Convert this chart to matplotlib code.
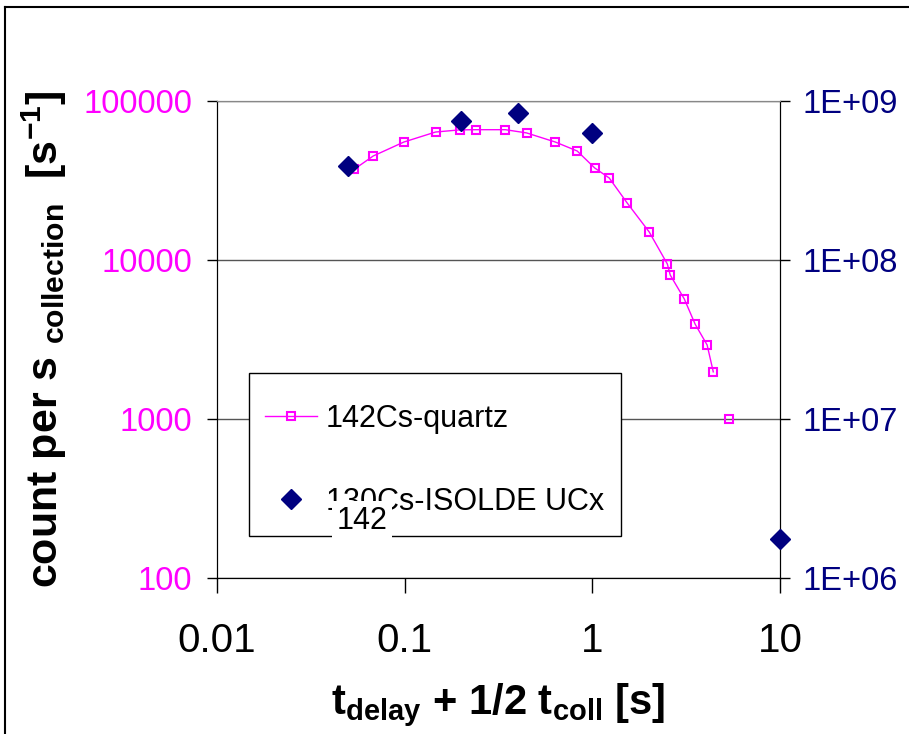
import numpy as np
import matplotlib
matplotlib.use("Agg")
import matplotlib.pyplot as plt
from matplotlib.ticker import FuncFormatter, FixedLocator, NullLocator
from matplotlib.lines import Line2D
from matplotlib.patches import Rectangle

plt.rcParams['font.family'] = ['Liberation Sans', 'DejaVu Sans']
plt.rcParams['mathtext.fontset'] = 'custom'
plt.rcParams['mathtext.rm'] = 'Liberation Sans'
plt.rcParams['mathtext.bf'] = 'Liberation Sans:bold'

# 142Cs from the quartz target (left axis, counts per s)
quartz_t = [0.054, 0.068, 0.099, 0.146, 0.196, 0.241, 0.344, 0.446, 0.635, 0.83,
            1.03, 1.23, 1.535, 2.01, 2.51, 2.60, 3.09, 3.53, 4.09, 4.41, 5.36]
quartz_rate = [37300, 45100, 55200, 63800, 65800, 66000, 66000, 63000, 55200, 48500,
               37900, 32800, 22800, 15000, 9440, 8050, 5690, 3950, 2920, 1980, 1000]

# 130Cs from ISOLDE UCx (right axis)
isolde_t = [0.05, 0.2, 0.4, 1.0, 10.0]
isolde_rate = [3.9e8, 7.5e8, 8.4e8, 6.3e8, 1.75e6]

x_ticks = [0.01, 0.1, 1, 10]
left_ticks = [100, 1000, 10000, 100000]
right_ticks = [1e6, 1e7, 1e8, 1e9]

pink = '#FF00FF'
navy = '#000080'

fig = plt.figure(figsize=(9.09, 7.34), dpi=100)
ax = fig.add_axes([217/909, 1 - 578/734, (780 - 217)/909, (578 - 101)/734])
ax2 = ax.twinx()

# quartz curve, last point measured separately (not joined)
l1, = ax.plot(quartz_t[:-1], quartz_rate[:-1], color=pink, lw=1.0, marker='s',
              ms=6, mfc='none', mec=pink, mew=1.5, zorder=3)
ax.plot(quartz_t[-1:], quartz_rate[-1:], ls='none', marker='s', ms=6,
        mfc='none', mec=pink, mew=1.5, zorder=3)

l2, = ax2.plot(isolde_t, isolde_rate, ls='none', marker='D', ms=10,
               color=navy, clip_on=False, zorder=4)

ax.set_xscale('log')
ax.set_yscale('log')
ax2.set_yscale('log')
ax.set_xlim(0.01, 10)
ax.set_ylim(100, 100000)
ax2.set_ylim(1e6, 1e9)

ax.xaxis.set_major_locator(FixedLocator(x_ticks))
ax.xaxis.set_minor_locator(NullLocator())
ax.xaxis.set_major_formatter(FuncFormatter(lambda v, pos: '{:g}'.format(v)))
ax.yaxis.set_major_locator(FixedLocator(left_ticks))
ax.yaxis.set_minor_locator(NullLocator())
ax.yaxis.set_major_formatter(FuncFormatter(lambda v, pos: '{:.0f}'.format(v)))
ax2.yaxis.set_major_locator(FixedLocator(right_ticks))
ax2.yaxis.set_minor_locator(NullLocator())
ax2.yaxis.set_major_formatter(
    FuncFormatter(lambda v, pos: '1E+{:02d}'.format(int(round(np.log10(v))))))

ax.tick_params(axis='x', direction='out', length=11, width=1, labelsize=29, pad=21)
ax.tick_params(axis='y', direction='out', length=7, width=1, labelsize=23.5,
               labelcolor=pink, pad=11)
ax2.tick_params(axis='y', direction='out', length=7, width=1, labelsize=23.5,
                labelcolor=navy, pad=9)

ax.grid(True, axis='y', color='#555555', lw=1)
ax.grid(False, axis='x')
for a in (ax, ax2):
    a.spines['top'].set_color('#888888')
    a.spines['left'].set_color('black')
    a.spines['right'].set_color('black')
    a.spines['bottom'].set_color('black')

ax.set_ylabel(r'count per s $_{\mathbf{collection}}$  [s$^{\mathbf{-1}}$]',
              fontsize=31, fontweight='bold', labelpad=10)
ax.set_xlabel(r't$_{\mathbf{delay}}$ + 1/2 t$_{\mathbf{coll}}$ [s]',
              fontsize=30, fontweight='bold', labelpad=15)

# legend box
ax2.add_patch(Rectangle((249/909, 1 - 536/734), (621 - 249)/909, (536 - 373)/734,
                        transform=fig.transFigure, facecolor='white',
                        edgecolor='black', lw=1.0, clip_on=False, zorder=4.5))
leg = ax2.legend([l1, l2], ['142Cs-quartz', '130Cs-ISOLDE UCx'],
                 loc='upper left', bbox_to_anchor=(265/909, 1 - 404/734),
                 bbox_transform=fig.transFigure, fontsize=22, numpoints=1,
                 frameon=False, borderpad=0, handlelength=1.7, handletextpad=0.3,
                 labelspacing=1.73, borderaxespad=0)
leg.set_zorder(5)

fig.text(362/909, 1 - 521/734, '142', fontsize=22, ha='center', va='center',
         bbox=dict(facecolor='white', edgecolor='none', pad=3.5), zorder=10)

# chart border
fig.add_artist(Line2D([5/909, 1], [1 - 7/734, 1 - 7/734], color='black', lw=1.5))
fig.add_artist(Line2D([5/909, 5/909], [0, 1 - 7/734], color='black', lw=1.5))

fig.savefig('out.png', dpi=100)
